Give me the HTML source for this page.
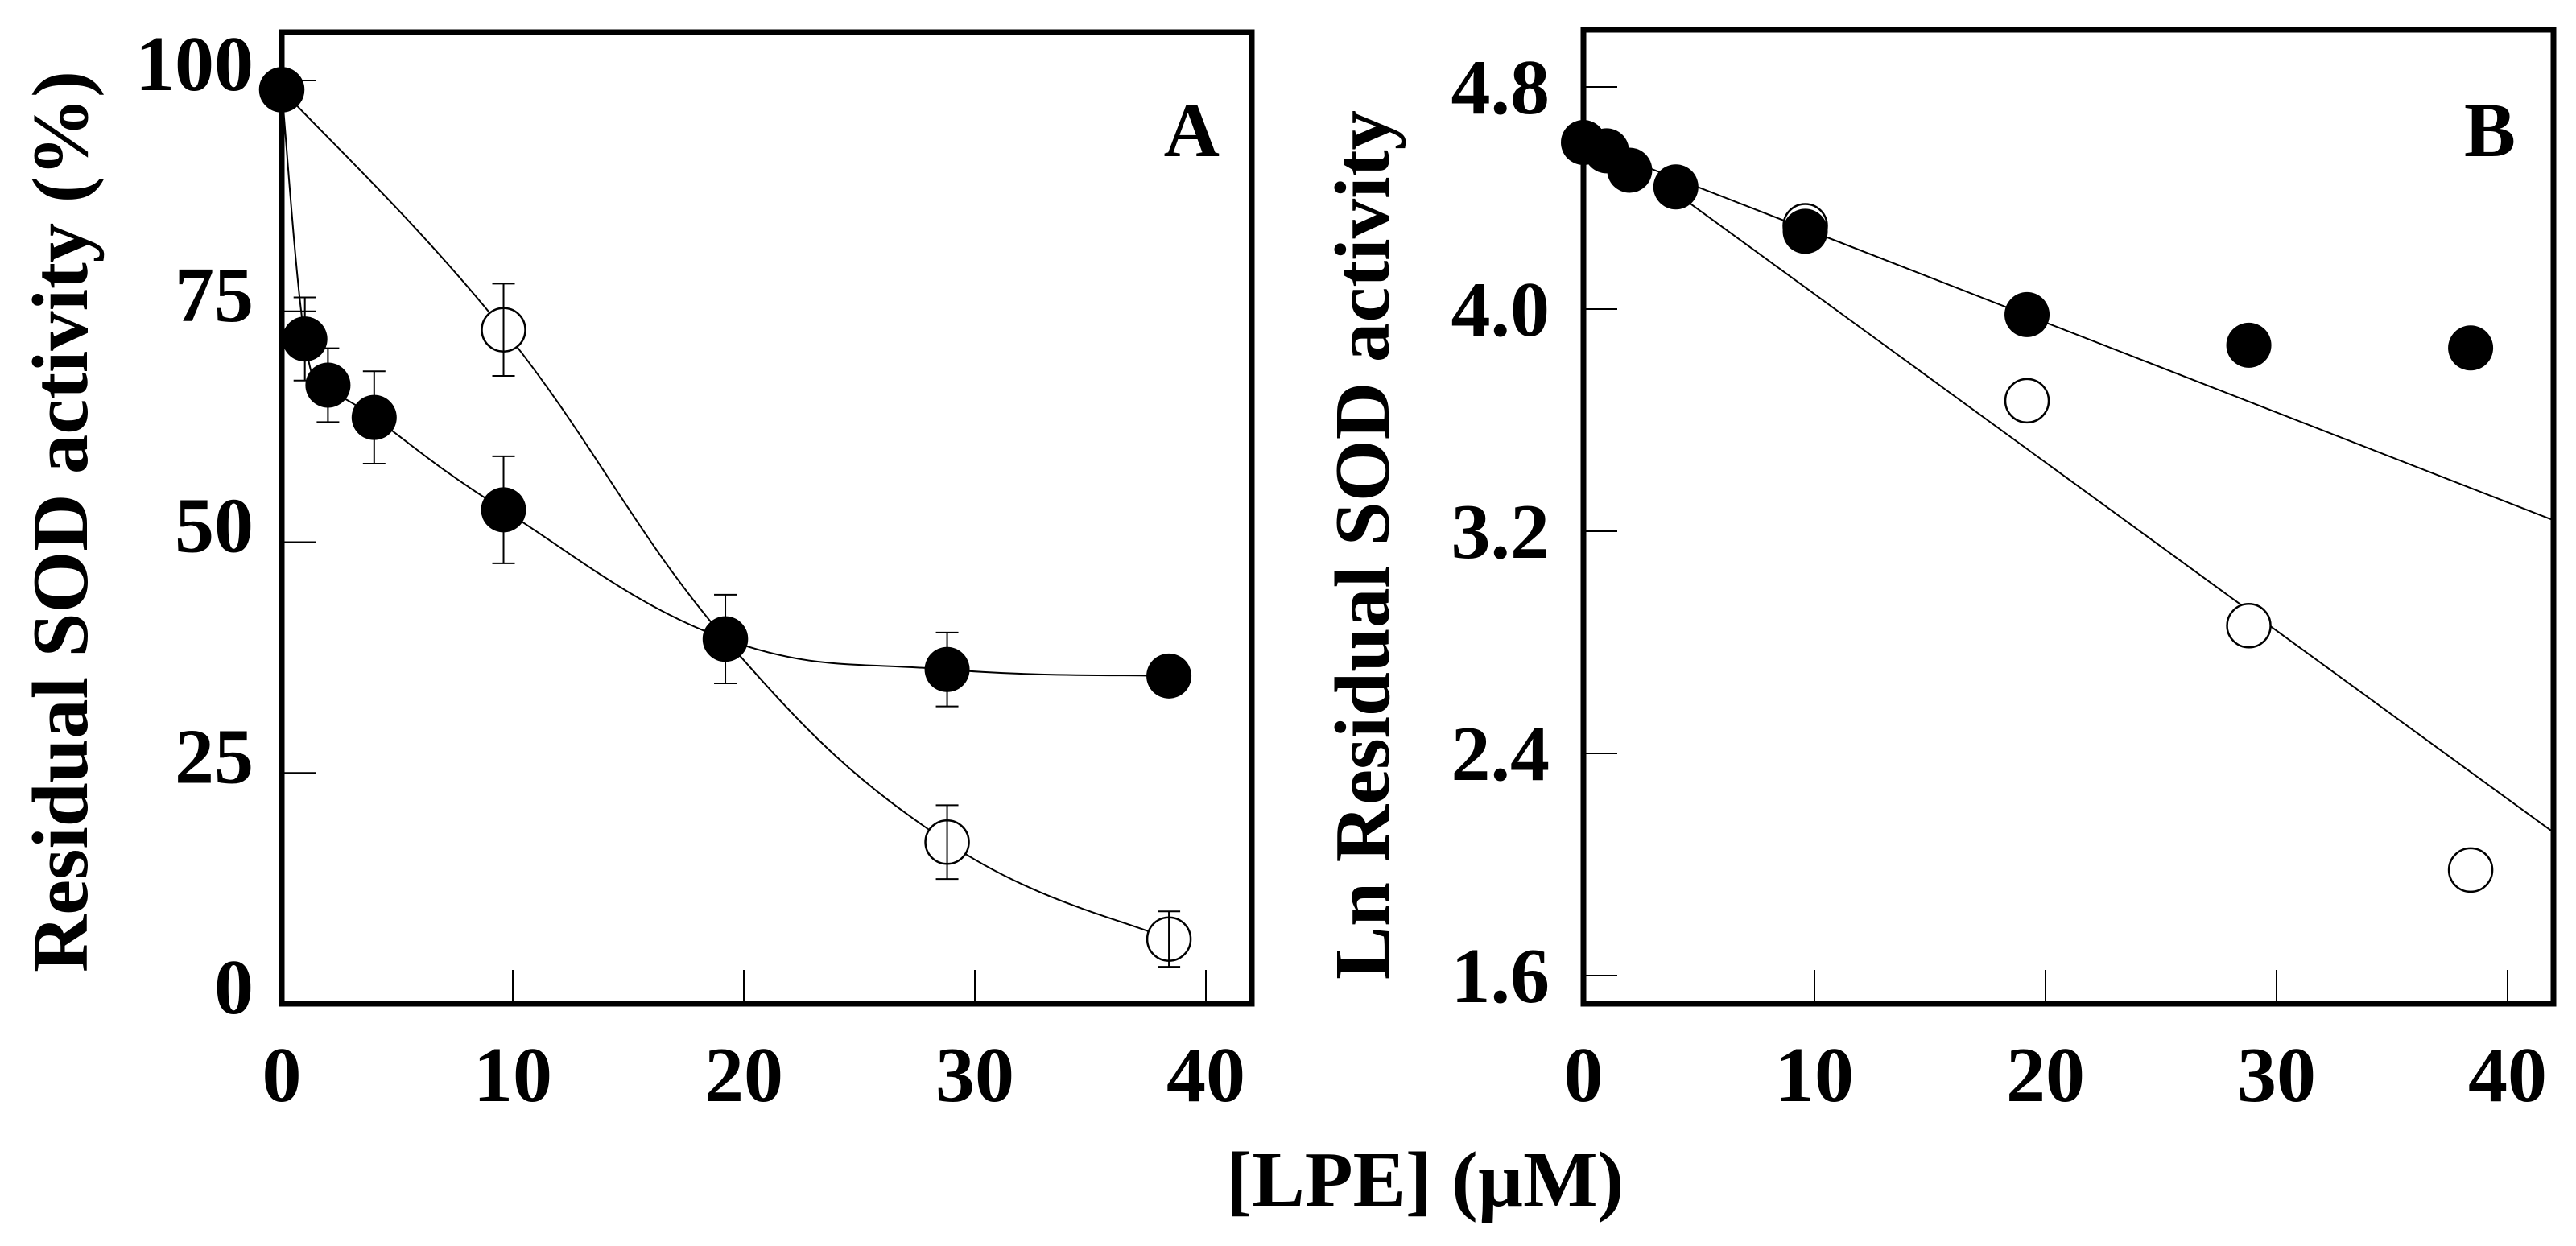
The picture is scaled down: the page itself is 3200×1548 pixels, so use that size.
<!DOCTYPE html>
<html><head><meta charset="utf-8"><style>
html,body{margin:0;padding:0;background:#fff}
svg{display:block}
text{font-family:"Liberation Serif",serif;font-weight:bold;fill:#000}
</style></head><body>
<svg id="chart" width="3200" height="1548" viewBox="0 0 3200 1548" xmlns="http://www.w3.org/2000/svg">
<g id="pa"></g>
<g id="pb"></g>
<text x="1770" y="1498" font-size="98" text-anchor="middle">[LPE] (µM)</text>
</svg>
<script>
// Panel A data
const concA = [0, 1, 2, 4, 9.6, 19.2, 28.8, 38.4];
const filledA = [99, 72, 67, 63.5, 53.5, 39.5, 36.2, 35.5];
const filledErrA = [0, 4.5, 4, 5, 5.8, 4.8, 4, 0];
const openConcA = [0, 9.6, 19.2, 28.8, 38.4];
const openA = [99, 73, 39.5, 17.5, 7];
const openErrA = [0, 5, 0, 4, 3];
const yTicksA = [0, 25, 50, 75, 100];
const xTicks = [0, 10, 20, 30, 40];
// Panel B data
const concB = [0, 1, 2, 4, 9.6, 19.2, 28.8, 38.4];
const filledB = [4.6, 4.57, 4.5, 4.44, 4.28, 3.98, 3.87, 3.86];
const openConcB = [9.6, 19.2, 28.8, 38.4];
const openB = [4.3, 3.67, 2.86, 1.98];
const fitFilledB = [4.6, -0.0324];
const fitOpenB = [4.66, -0.0606];
const yTicksB = [1.6, 2.4, 3.2, 4.0, 4.8];

const NS = "http://www.w3.org/2000/svg";
function mk(parent, tag, attrs) {
  const e = document.createElementNS(NS, tag);
  for (const k in attrs) e.setAttribute(k, attrs[k]);
  parent.appendChild(e);
  return e;
}
function catmull(pts) {
  let d = "M" + pts[0][0] + "," + pts[0][1];
  for (let i = 0; i < pts.length - 1; i++) {
    const p0 = pts[Math.max(0, i - 1)], p1 = pts[i], p2 = pts[i + 1], p3 = pts[Math.min(pts.length - 1, i + 2)];
    const t = 0.2;
    const c1 = [p1[0] + (p2[0] - p0[0]) * t, p1[1] + (p2[1] - p0[1]) * t];
    const c2 = [p2[0] - (p3[0] - p1[0]) * t, p2[1] - (p3[1] - p1[1]) * t];
    d += " C" + c1.join(",") + " " + c2.join(",") + " " + p2.join(",");
  }
  return d;
}

// ---------- Panel A ----------
(function () {
  const g = document.getElementById("pa");
  const L = 350, T = 40, R = 1555, B = 1247;
  const xA = v => L + v * 28.7;
  const yA = v => 1247 - v * 11.47;
  yTicksA.forEach(v => {
    const t = mk(g, "line", {x1: L, x2: L + 42, y1: yA(v), y2: yA(v), stroke: "#000", "stroke-width": 2});
    
    
    const lb = mk(g, "text", {x: 315, y: yA(v) + 12, "font-size": 98, "text-anchor": "end"});
    lb.textContent = String(v);
    
    
  });
  xTicks.forEach(v => {
    const t = mk(g, "line", {x1: xA(v), x2: xA(v), y1: B, y2: B - 42, stroke: "#000", "stroke-width": 2});
    
    
    const lb = mk(g, "text", {x: xA(v), y: 1368, "font-size": 98, "text-anchor": "middle"});
    lb.textContent = String(v);
    
    
  });
  const oc = mk(g, "path", {d: catmull(openConcA.map((c, i) => [xA(c), yA(openA[i])])), fill: "none", stroke: "#000", "stroke-width": 2});
  
  
  const fc = mk(g, "path", {d: catmull(concA.map((c, i) => [xA(c), yA(filledA[i])])), fill: "none", stroke: "#000", "stroke-width": 2});
  
  
  function errbar(x, y, e, name) {
    if (!e) return;
    const eg = mk(g, "path", {d: `M${x},${yA(y + e)}V${yA(y - e)}M${x - 14},${yA(y + e)}h28M${x - 14},${yA(y - e)}h28`, stroke: "#000", "stroke-width": 2, fill: "none"});
    
    
  }
  openConcA.forEach((c, i) => {
    const m = mk(g, "circle", {cx: xA(c), cy: yA(openA[i]), r: 27, fill: "#fff", stroke: "#000", "stroke-width": 2.5});
    
    
    errbar(xA(c), openA[i], openErrA[i], 'open-error-bar-a');
  });
  concA.forEach((c, i) => {
    errbar(xA(c), filledA[i], filledErrA[i], 'filled-error-bar-a');
    const m = mk(g, "circle", {cx: xA(c), cy: yA(filledA[i]), r: 28, fill: "#000"});
    
    
  });
  const fr = mk(g, "rect", {x: L, y: T, width: R - L, height: B - T, fill: "none", stroke: "#000", "stroke-width": 7});
  
  
  const pl = mk(g, "text", {x: 1515, y: 194, "font-size": 96, "text-anchor": "end"});
  pl.textContent = "A";
  
  
  const yt = mk(g, "text", {x: 0, y: 0, "font-size": 99, "text-anchor": "middle", transform: "translate(108,648) rotate(-90)", textLength: 1120, lengthAdjust: "spacingAndGlyphs"});
  yt.textContent = "Residual SOD activity (%)";
  
  
})();

// ---------- Panel B ----------
(function () {
  const g = document.getElementById("pb");
  const L = 1967, T = 37, R = 3172, B = 1247;
  const xB = v => L + v * 28.7;
  const yB = v => 108 + (4.8 - v) * 345;
  yTicksB.forEach(v => {
    const t = mk(g, "line", {x1: L, x2: L + 42, y1: yB(v), y2: yB(v), stroke: "#000", "stroke-width": 2});
    
    
    const lb = mk(g, "text", {x: 1925, y: yB(v) + 33, "font-size": 98, "text-anchor": "end"});
    lb.textContent = v.toFixed(1);
    
    
  });
  xTicks.forEach(v => {
    const t = mk(g, "line", {x1: xB(v), x2: xB(v), y1: B, y2: B - 42, stroke: "#000", "stroke-width": 2});
    
    
    const lb = mk(g, "text", {x: xB(v), y: 1368, "font-size": 98, "text-anchor": "middle"});
    lb.textContent = String(v);
    
    
  });
  const xEnd = (R - L) / 28.7;
  const lf = mk(g, "line", {x1: xB(0), y1: yB(fitFilledB[0]), x2: xB(xEnd), y2: yB(fitFilledB[0] + fitFilledB[1] * xEnd), stroke: "#000", "stroke-width": 2});
  
  
  const lo = mk(g, "line", {x1: xB(4), y1: yB(fitOpenB[0] + fitOpenB[1] * 4), x2: xB(xEnd), y2: yB(fitOpenB[0] + fitOpenB[1] * xEnd), stroke: "#000", "stroke-width": 2});
  
  
  openConcB.forEach((c, i) => {
    const m = mk(g, "circle", {cx: xB(c), cy: yB(openB[i]), r: 27, fill: "#fff", stroke: "#000", "stroke-width": 2.5});
    
    
  });
  concB.forEach((c, i) => {
    const m = mk(g, "circle", {cx: xB(c), cy: yB(filledB[i]), r: 28, fill: "#000"});
    
    
  });
  const fr = mk(g, "rect", {x: L, y: T, width: R - L, height: B - T, fill: "none", stroke: "#000", "stroke-width": 7});
  
  
  const pl = mk(g, "text", {x: 3125, y: 194, "font-size": 96, "text-anchor": "end"});
  pl.textContent = "B";
  
  
  const yt = mk(g, "text", {x: 0, y: 0, "font-size": 98, "text-anchor": "middle", transform: "translate(1725,677) rotate(-90)", textLength: 1080, lengthAdjust: "spacingAndGlyphs"});
  yt.textContent = "Ln Residual SOD activity";
  
  
})();
</script>
</body></html>
